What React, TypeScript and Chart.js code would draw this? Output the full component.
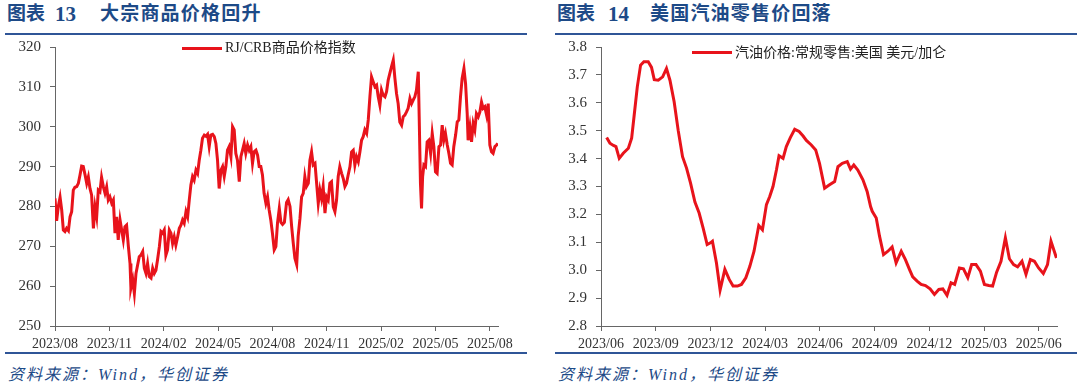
import React, { useEffect, useRef } from 'react';
import { Chart, registerables } from 'chart.js';

Chart.register(...registerables);

// ---------- Data: RJ/CRB commodity index (months since 2023/08) ----------
const crbMonths = [
  0.00, 0.09, 0.18, 0.28, 0.37, 0.46, 0.55, 0.64, 0.74, 0.83, 0.92, 1.01, 1.10, 1.20, 1.29, 1.38, 1.47, 1.56, 1.66, 1.75,
  1.84, 1.93, 2.02, 2.12, 2.21, 2.30, 2.39, 2.48, 2.57, 2.67, 2.76, 2.85, 2.94, 3.03, 3.13, 3.22, 3.31, 3.40, 3.49, 3.59,
  3.68, 3.77, 3.86, 3.95, 4.05, 4.14, 4.19, 4.29, 4.38, 4.47, 4.56, 4.65, 4.74, 4.84, 4.93, 5.02, 5.11, 5.20, 5.30, 5.39,
  5.48, 5.57, 5.66, 5.76, 5.85, 5.94, 6.03, 6.12, 6.21, 6.31, 6.40, 6.49, 6.58, 6.67, 6.77, 6.86, 6.95, 7.04, 7.13, 7.23,
  7.32, 7.41, 7.50, 7.59, 7.68, 7.78, 7.87, 7.96, 8.05, 8.14, 8.24, 8.33, 8.42, 8.51, 8.60, 8.70, 8.79, 8.88, 8.97, 9.06,
  9.16, 9.25, 9.34, 9.43, 9.52, 9.61, 9.71, 9.80, 9.89, 9.98, 10.07, 10.17, 10.26, 10.35, 10.44, 10.53, 10.63, 10.72, 10.81, 10.90,
  10.99, 11.09, 11.18, 11.27, 11.36, 11.45, 11.54, 11.64, 11.73, 11.82, 11.91, 12.00, 12.10, 12.19, 12.28, 12.38, 12.47, 12.56, 12.66, 12.78,
  12.87, 12.97, 13.06, 13.15, 13.24, 13.34, 13.42, 13.52, 13.61, 13.70, 13.79, 13.88, 13.98, 14.07, 14.16, 14.25, 14.35, 14.44, 14.53, 14.62,
  14.71, 14.80, 14.90, 14.99, 15.08, 15.17, 15.26, 15.36, 15.45, 15.54, 15.63, 15.72, 15.82, 15.91, 16.00, 16.09, 16.18, 16.28, 16.37, 16.46,
  16.55, 16.64, 16.74, 16.83, 16.92, 17.01, 17.10, 17.20, 17.29, 17.38, 17.47, 17.56, 17.66, 17.75, 17.84, 17.93, 18.02, 18.11, 18.21, 18.30,
  18.39, 18.48, 18.57, 18.67, 18.76, 18.85, 18.94, 19.03, 19.13, 19.22, 19.31, 19.40, 19.49, 19.59, 19.68, 19.77, 19.86, 19.95, 20.05, 20.10,
  20.17, 20.23, 20.29, 20.36, 20.45, 20.54, 20.63, 20.73, 20.82, 20.91, 21.00, 21.09, 21.19, 21.28, 21.37, 21.46, 21.55, 21.65, 21.74, 21.83,
  21.92, 22.01, 22.11, 22.20, 22.29, 22.38, 22.47, 22.57, 22.66, 22.75, 22.80, 22.90, 22.99, 23.08, 23.17, 23.26, 23.36, 23.45, 23.54, 23.63,
  23.72, 23.82, 23.91, 24.00, 24.09, 24.18, 24.28, 24.37, 24.44,
];
const crbValues = [
  282.0, 276.4, 279.9, 282.3, 279.1, 274.1, 273.7, 274.5, 273.9, 277.4, 278.7, 284.1, 284.8, 285.0, 285.8, 287.9, 290.1, 290.0, 287.9, 285.8,
  287.4, 284.5, 282.9, 274.5, 279.9, 277.4, 284.1, 283.7, 287.3, 284.9, 283.3, 284.9, 281.6, 282.4, 280.8, 281.6, 273.3, 277.4, 271.6, 276.6,
  274.1, 271.6, 274.9, 275.3, 269.9, 265.7, 259.5, 261.6, 258.2, 263.2, 265.3, 267.4, 267.8, 268.7, 264.5, 263.2, 265.7, 262.4, 262.0, 264.5,
  263.2, 264.0, 266.6, 269.9, 273.7, 273.3, 274.1, 267.8, 269.1, 274.1, 273.3, 270.7, 272.4, 270.3, 272.4, 274.5, 275.3, 276.6, 275.8, 278.7,
  277.4, 281.6, 285.4, 287.5, 286.6, 289.1, 288.3, 291.6, 294.1, 297.1, 297.9, 297.6, 298.1, 295.0, 297.9, 298.1, 297.5, 295.8, 291.6, 284.5,
  289.1, 290.0, 287.5, 290.0, 294.1, 295.0, 292.5, 300.0, 299.2, 293.3, 291.6, 286.2, 292.5, 294.1, 295.8, 293.3, 295.4, 294.1, 295.0, 290.8,
  293.7, 294.1, 292.9, 290.0, 290.0, 287.9, 283.3, 280.8, 282.4, 279.1, 276.6, 273.3, 269.1, 269.9, 275.8, 279.5, 276.0, 275.5, 276.0, 281.0,
  281.7, 280.0, 275.0, 270.8, 267.0, 265.4, 272.5, 277.0, 282.4, 283.3, 287.5, 285.0, 285.8, 291.6, 293.7, 290.4, 290.8, 285.8, 280.8, 284.1,
  282.0, 285.0, 278.3, 282.4, 281.6, 285.8, 286.2, 279.9, 278.7, 281.6, 287.5, 290.0, 288.3, 287.0, 285.0, 285.8, 287.9, 290.0, 293.7, 294.1,
  290.4, 292.5, 291.2, 293.7, 296.6, 297.5, 299.2, 298.3, 301.7, 307.5, 312.5, 311.3, 310.0, 310.4, 307.5, 305.4, 309.2, 307.9, 307.5, 308.8,
  311.7, 313.4, 315.0, 316.7, 312.1, 308.3, 305.8, 301.2, 300.4, 302.5, 302.9, 303.7, 304.6, 307.1, 305.8, 306.7, 307.5, 309.2, 313.8, 302.5,
  285.8, 279.5, 287.5, 290.4, 290.0, 296.2, 296.6, 293.3, 298.3, 295.0, 288.7, 288.3, 295.0, 295.4, 300.4, 296.6, 298.3, 295.4, 293.3, 290.8,
  290.4, 295.0, 297.9, 301.2, 301.7, 307.5, 312.1, 314.6, 310.8, 303.3, 296.6, 300.0, 296.2, 300.8, 299.2, 303.3, 302.5, 303.7, 306.2, 304.6,
  305.0, 302.9, 305.8, 295.4, 293.7, 293.3, 295.0, 295.4, 295.8,
];
const crbTickLabels = ['2023/08', '2023/11', '2024/02', '2024/05', '2024/08', '2024/11', '2025/02', '2025/05', '2025/08'];
const crbSeriesName = 'RJ/CRB商品价格指数';

// ---------- Data: US regular gasoline retail price (months since 2023/06) ----------
const gasMonths = [
  0.31, 0.49, 0.68, 0.82, 1.00, 1.22, 1.50, 1.68, 1.81, 1.99, 2.17, 2.35, 2.59, 2.77, 2.92, 3.14, 3.38, 3.59, 3.78, 4.01,
  4.23, 4.47, 4.69, 4.91, 5.15, 5.38, 5.60, 5.82, 6.00, 6.11, 6.33, 6.53, 6.79, 7.03, 7.24, 7.48, 7.70, 7.94, 8.16, 8.39,
  8.65, 8.85, 9.07, 9.25, 9.43, 9.62, 9.76, 9.98, 10.16, 10.38, 10.62, 10.86, 11.08, 11.26, 11.53, 11.77, 11.98, 12.26, 12.53, 12.81,
  12.99, 13.23, 13.50, 13.68, 13.86, 14.08, 14.36, 14.59, 14.78, 14.87, 15.09, 15.27, 15.49, 15.73, 15.96, 16.18, 16.46, 16.69, 16.91, 17.09,
  17.33, 17.55, 17.79, 18.04, 18.28, 18.52, 18.74, 18.97, 19.19, 19.39, 19.65, 19.87, 20.11, 20.32, 20.56, 20.80, 21.02, 21.26, 21.47, 21.69,
  21.93, 22.17, 22.39, 22.62, 22.84, 23.08, 23.30, 23.54, 23.76, 23.99, 24.25, 24.48, 24.67, 24.97,
];
const gasValues = [
  3.476, 3.455, 3.447, 3.443, 3.401, 3.419, 3.437, 3.473, 3.550, 3.657, 3.735, 3.747, 3.747, 3.727, 3.683, 3.681, 3.693, 3.723, 3.681, 3.604,
  3.502, 3.407, 3.366, 3.312, 3.244, 3.205, 3.151, 3.092, 3.098, 3.104, 3.026, 2.929, 3.003, 2.967, 2.943, 2.943, 2.949, 2.973, 3.014, 3.068,
  3.160, 3.145, 3.235, 3.264, 3.300, 3.360, 3.410, 3.401, 3.443, 3.475, 3.505, 3.497, 3.481, 3.465, 3.449, 3.431, 3.383, 3.294, 3.306, 3.318,
  3.371, 3.383, 3.389, 3.362, 3.377, 3.359, 3.324, 3.282, 3.228, 3.211, 3.187, 3.122, 3.056, 3.068, 3.083, 3.026, 3.068, 3.038, 3.003, 2.976,
  2.961, 2.949, 2.945, 2.933, 2.913, 2.931, 2.933, 2.910, 2.955, 2.949, 3.008, 3.005, 2.973, 3.020, 3.020, 2.997, 2.949, 2.945, 2.943, 2.993,
  3.032, 3.116, 3.041, 3.020, 3.012, 3.032, 2.985, 3.038, 3.032, 3.008, 2.988, 3.020, 3.104, 3.044,
];
const gasTickLabels = ['2023/06', '2023/09', '2023/12', '2024/03', '2024/06', '2024/09', '2024/12', '2025/03', '2025/06'];
const gasSeriesName = '汽油价格:常规零售:美国 美元/加仑';

const SERIF = '"Liberation Serif", "Noto Sans CJK SC", serif';
const CJK = '"Liberation Serif", "Noto Sans CJK SC", sans-serif';
const NAVY = '#1d4a87';
const RULE = '#2f5597';
const RED = '#e8131b';
const AXIS = '#666666';

type ChartProps = {
  left: number; top: number; width: number; height: number;
  xs: number[]; ys: number[]; xMax: number; xLabels: string[];
  yMin: number; yMax: number; yStep: number; yDecimals: number;
  axisWidth: number; padRight: number; xAxisHeight: number;
  name: string;
};

function LineChart(p: ChartProps) {
  const ref = useRef<HTMLCanvasElement | null>(null);
  useEffect(() => {
    if (!ref.current) return;
    const data = p.xs.map((x, i) => ({ x, y: p.ys[i] }));
    const chart = new Chart(ref.current, {
      type: 'line',
      data: {
        datasets: [{
          label: p.name,
          data,
          borderColor: RED,
          backgroundColor: RED,
          borderWidth: 3,
          pointRadius: 0,
          tension: 0,
          fill: false,
        }],
      },
      options: {
        animation: false,
        responsive: false,
        devicePixelRatio: 1,
        events: [],
        layout: { padding: { top: 0, right: p.padRight, left: 0, bottom: 0 } },
        plugins: { legend: { display: false }, tooltip: { enabled: false } },
        scales: {
          x: {
            type: 'linear',
            min: 0,
            max: p.xMax,
            afterFit: (s: any) => { s.height = p.xAxisHeight; },
            border: { display: true, color: AXIS, width: 1 },
            grid: { display: true, drawOnChartArea: false, drawTicks: true, tickLength: 5, color: AXIS },
            ticks: {
              stepSize: 3,
              includeBounds: false,
              autoSkip: false,
              maxRotation: 0,
              padding: 5,
              color: '#333333',
              font: { family: SERIF, size: 14 },
              callback: (v: any) => {
                const n = Number(v);
                const i = Math.round(n / 3);
                return Math.abs(n - i * 3) < 1e-6 && p.xLabels[i] ? p.xLabels[i] : '';
              },
            },
          },
          y: {
            type: 'linear',
            min: p.yMin,
            max: p.yMax,
            afterFit: (s: any) => { s.width = p.axisWidth; },
            border: { display: true, color: AXIS, width: 1 },
            grid: { display: true, drawOnChartArea: false, drawTicks: true, tickLength: 5, color: AXIS },
            ticks: {
              stepSize: p.yStep,
              padding: 9,
              color: '#333333',
              font: { family: SERIF, size: 15 },
              callback: (v: any) => Number(v).toFixed(p.yDecimals),
            },
          },
        },
      },
    });
    return () => chart.destroy();
  }, []);
  return (
    <canvas
      ref={ref}
      width={p.width}
      height={p.height}
      style={{ position: 'absolute', left: p.left, top: p.top, width: p.width, height: p.height }}
    />
  );
}

type PanelProps = {
  x: number; ruleLeft: number; ruleRight: number;
  figNo: string; numLeft: number; title: string; titleLeft: number;
  legendLineLeft: number; legendY: number; legendText: string;
  chart: Omit<ChartProps, 'name'>; name: string;
};

function Panel(p: PanelProps) {
  return (
    <>
      <div style={{ position: 'absolute', left: p.x + 7, top: 2, fontFamily: CJK, fontWeight: 700, fontSize: 19, color: NAVY, lineHeight: '24px', whiteSpace: 'nowrap' }}>图表</div>
      <div style={{ position: 'absolute', left: p.numLeft, top: 2, fontFamily: SERIF, fontWeight: 700, fontSize: 21, color: NAVY, lineHeight: '24px' }}>{p.figNo}</div>
      <div style={{ position: 'absolute', left: p.titleLeft, top: 2, fontFamily: CJK, fontWeight: 700, fontSize: 19, letterSpacing: 1.2, color: NAVY, lineHeight: '24px', whiteSpace: 'nowrap' }}>{p.title}</div>
      <div style={{ position: 'absolute', left: p.ruleLeft, width: p.ruleRight - p.ruleLeft, top: 33, height: 2, background: RULE }} />
      <LineChart {...p.chart} name={p.name} />
      <div style={{ position: 'absolute', left: p.legendLineLeft, top: p.legendY - 1.5, width: 40, height: 3, background: RED }} />
      <div style={{ position: 'absolute', left: p.legendLineLeft + 43, top: p.legendY - 9, fontFamily: SERIF, fontSize: 14, color: '#222', lineHeight: '18px', whiteSpace: 'nowrap' }}>{p.legendText}</div>
      <div style={{ position: 'absolute', left: p.ruleLeft, width: p.ruleRight - p.ruleLeft, top: 352, height: 2, background: RULE }} />
      <div style={{ position: 'absolute', left: p.x + 8, top: 364, fontFamily: SERIF, fontStyle: 'italic', fontSize: 16, letterSpacing: 2, color: NAVY, lineHeight: '22px', whiteSpace: 'nowrap' }}>资料来源：Wind，华创证券</div>
    </>
  );
}

export default function App() {
  return (
    <div style={{ position: 'relative', width: 1080, height: 387, background: '#ffffff', overflow: 'hidden' }}>
      <style>{'body{margin:0;background:#fff;}'}</style>
      <Panel
        x={0} ruleLeft={5} ruleRight={527}
        figNo="13" numLeft={55} title="大宗商品价格回升" titleLeft={100}
        legendLineLeft={182} legendY={48} legendText={crbSeriesName} name={crbSeriesName}
        chart={{
          left: 0, top: 29, width: 530, height: 325,
          xs: crbMonths, ys: crbValues, xMax: 24.45, xLabels: crbTickLabels,
          yMin: 250, yMax: 320, yStep: 10, yDecimals: 0,
          axisWidth: 55, padRight: 32, xAxisHeight: 28,
        }}
      />
      <Panel
        x={550} ruleLeft={555} ruleRight={1077}
        figNo="14" numLeft={608} title="美国汽油零售价回落" titleLeft={650}
        legendLineLeft={692} legendY={52.5} legendText={gasSeriesName} name={gasSeriesName}
        chart={{
          left: 540, top: 29, width: 540, height: 325,
          xs: gasMonths, ys: gasValues, xMax: 25, xLabels: gasTickLabels,
          yMin: 2.8, yMax: 3.8, yStep: 0.1, yDecimals: 1,
          axisWidth: 61, padRight: 23, xAxisHeight: 28,
        }}
      />
    </div>
  );
}
